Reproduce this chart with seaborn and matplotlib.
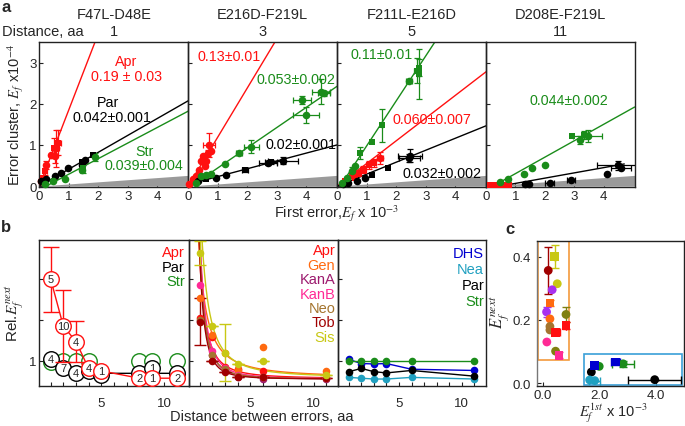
"""
Error clusters vs first error rate (a), relative next-error rate vs distance (b),
and E_next vs E_1st summary (c).
"""
import numpy as np
import pandas as pd
import matplotlib
matplotlib.use("Agg")
import matplotlib.pyplot as plt
import seaborn as sns
from matplotlib.patches import Rectangle

# ---------------- panel a data: (x, y, xerr, yerr, marker) ----------------
A_TITLES = ["F47L-D48E", "E216D-F219L", "F211L-E216D", "D208E-F219L"]
A_DIST = ["1", "3", "5", "11"]

A1_APR = [(0.07, 0.12, 0, 0, "o"), (0.13, 0.20, 0, 0, "s"), (0.20, 0.36, 0.05, 0.08, "s"),
          (0.24, 0.52, 0, 0.1, "o"), (0.41, 0.76, 0, 0, "o"), (0.50, 0.92, 0.05, 0.25, "s"),
          (0.52, 0.72, 0, 0.15, "o"), (0.58, 0.92, 0.08, 0.45, "o"), (0.64, 1.05, 0.1, 0.3, "s")]
A1_PAR = [(0.07, 0.12, 0, 0, "o"), (0.24, 0.16, 0, 0, "o"), (0.52, 0.24, 0, 0, "o"),
          (0.75, 0.32, 0, 0, "o"), (0.98, 0.44, 0, 0, "o"), (1.44, 0.52, 0, 0, "o"),
          (1.44, 0.58, 0, 0, "s"), (1.56, 0.64, 0, 0, "o"), (1.83, 0.76, 0, 0, "s")]
A1_STR = [(0.18, 0.04, 0, 0, "o"), (0.46, 0.12, 0, 0, "o"), (0.86, 0.16, 0, 0, "o"),
          (1.44, 0.38, 0.05, 0.05, "o"), (1.50, 0.44, 0, 0.12, "s"), (1.88, 0.70, 0, 0.1, "o")]

A2_APR = [(0.04, 0.04, 0, 0, "o"), (0.15, 0.16, 0, 0, "o"), (0.26, 0.24, 0, 0, "o"),
          (0.38, 0.40, 0, 0, "o"), (0.43, 0.60, 0, 0, "o"), (0.49, 0.72, 0, 0, "o"),
          (0.55, 0.48, 0, 0, "o"), (0.60, 0.60, 0, 0, "o"), (0.66, 0.80, 0, 0.08, "o"),
          (0.71, 1.00, 0.2, 0.3, "o"), (0.77, 0.84, 0, 0, "o")]
A2_PAR = [(0.32, 0.12, 0, 0, "o"), (0.60, 0.16, 0, 0, "s"), (0.94, 0.20, 0, 0, "o"),
          (1.28, 0.28, 0, 0, "o"), (1.91, 0.38, 0.1, 0.05, "s"), (2.70, 0.56, 0.3, 0.05, "o"),
          (2.81, 0.58, 0.2, 0.05, "s"), (3.21, 0.62, 0.5, 0.08, "o")]
A2_STR = [(0.26, 0.08, 0, 0, "o"), (0.43, 0.24, 0, 0, "o"), (0.60, 0.28, 0, 0, "o"),
          (0.77, 0.29, 0, 0, "o"), (1.23, 0.53, 0, 0, "o"), (1.73, 0.80, 0.1, 0.05, "o"),
          (2.14, 0.96, 0.25, 0.15, "o"), (3.87, 2.10, 0.3, 0.1, "o"), (4.00, 1.72, 0.45, 0.2, "o"),
          (4.51, 2.29, 0.3, 0.3, "o"), (4.60, 2.25, 0.2, 0.05, "o")]

A3_APR = [(0.26, 0.12, 0, 0, "s"), (0.49, 0.24, 0, 0.05, "s"), (0.60, 0.20, 0, 0, "s"),
          (0.71, 0.32, 0.1, 0.08, "s"), (0.88, 0.40, 0.1, 0.08, "s"), (1.06, 0.52, 0.1, 0.1, "s"),
          (1.23, 0.56, 0.1, 0.1, "s"), (1.45, 0.68, 0.1, 0.15, "o")]
A3_PAR = [(0.21, 0.04, 0, 0, "o"), (0.38, 0.08, 0, 0, "o"), (0.66, 0.12, 0, 0, "o"),
          (0.94, 0.20, 0, 0, "o"), (1.17, 0.28, 0, 0, "s"), (1.73, 0.44, 0, 0, "s"),
          (2.44, 0.68, 0.35, 0.1, "o"), (2.47, 0.74, 0.4, 0.15, "o")]
A3_STR = [(0.15, 0.08, 0, 0, "o"), (0.32, 0.20, 0, 0, "o"), (0.49, 0.36, 0, 0.1, "o"),
          (0.60, 0.48, 0, 0, "o"), (0.77, 0.80, 0, 0.15, "s"), (1.17, 1.08, 0, 0, "s"),
          (1.51, 1.48, 0, 0.4, "s"), (2.42, 2.56, 0.1, 0, "o"), (2.70, 2.80, 0.1, 0.3, "s"),
          (2.76, 2.88, 0, 0.2, "s"), (2.76, 2.72, 0, 0.6, "s")]

A4_APR = [(0.15, 0.03, 0, 0, "s"), (0.30, 0.03, 0, 0, "s"), (0.45, 0.03, 0, 0, "s"),
          (0.60, 0.03, 0, 0, "s"), (0.80, 0.03, 0, 0, "s")]
A4_PAR = [(1.34, 0.04, 0, 0, "o"), (1.45, 0.06, 0, 0, "o"), (2.17, 0.08, 0.15, 0, "o"),
          (2.89, 0.15, 0.15, 0, "o"), (4.12, 0.29, 0, 0, "o"), (4.48, 0.50, 0.7, 0.1, "o"),
          (4.59, 0.44, 0.35, 0, "o")]
A4_STR = [(0.49, 0.10, 0, 0, "o"), (0.77, 0.18, 0, 0, "o"), (1.28, 0.29, 0, 0, "o"),
          (1.56, 0.45, 0, 0, "o"), (2.02, 0.50, 0, 0, "o"), (2.93, 1.22, 0, 0, "s"),
          (3.21, 1.12, 0, 0.1, "o"), (3.32, 1.24, 0, 0.1, "s"), (3.46, 1.22, 0.5, 0.15, "o")]

# fitted lines (slope, intercept, x start, x end) per panel for Apr, Par, Str
A_FIT_SLOPE = [[1.85, 0.41, 0.378], [1.19, 0.19, 0.49], [0.55, 0.29, 1.09], [None, 0.128, 0.40]]
A_FIT_ICPT = [[0.0, 0.0, -0.09], [0.0, 0.04, -0.05], [0.0, 0.0, -0.11], [None, -0.064, -0.10]]
A_FIT_X0 = [[0.0, 0.0, 0.24], [0.0, 0.2, 0.1], [0.0, 0.0, 0.1], [None, 0.5, 0.3]]
A_FIT_X1 = [[5.05, 5.05, 5.05], [5.05, 5.05, 5.05], [5.05, 5.05, 5.05], [None, 4.7, 5.05]]
A_NOISE_X = [0.0, 5.05]
A_NOISE_Y = [0.0, 0.26]

# ---------------- panel b data ----------------
B1_DIST = [1, 2, 3, 4, 5, 8, 9, 11]
B1_APR = [3.0, 1.85, 1.47, 0.81, 0.75, 0.57, 0.57, 0.57]
B1_APR_ERR = [0.8, 0.88, 0.5, 0.1, 0, 0, 0, 0]
B1_APR_N = ["5", "10", "4", "4", "1", "2", "1", "2"]
B1_PAR = [1.03, 0.81, 0.70, 0.75, 0.66, 0.70, 0.82, 0.70]
B1_PAR_N = ["4", "7", "4", "", "", "", "1", ""]
B1_PAR_FIT_X = [1, 2, 3, 11]
B1_PAR_FIT_Y = [1.03, 0.81, 0.69, 0.69]
B1_STR_DIST = [1, 2, 3, 4, 8, 9, 11]
B1_STR = [0.98, 1.0, 1.0, 1.0, 1.0, 1.0, 1.0]

B2_DIST = [1, 2, 3, 4, 6, 11]
B2_NAMES = ["Apr", "Gen", "KanA", "KanB", "Neo", "Tob", "Sis"]
B2_APR = [2.04, 1.59, 0.85, 0.80, 0.75, 0.57]
B2_GEN = [2.53, 1.62, 1.19, 0.76, 1.34, 0.75]
B2_KANA = [1.98, 1.13, 0.76, 0.60, 0.56, 0.56]
B2_KANB = [2.86, 1.25, 0.81, 0.65, 0.60, 0.57]
B2_NEO = [2.00, 1.13, 0.80, 0.62, 0.60, 0.58]
B2_TOB = [1.96, 1.00, 0.73, 0.60, 0.60, 0.57]
B2_SIS = [3.65, 1.84, 1.19, 0.92, 1.00, 0.64]
B2_ERR_TOB = [0.57, 0, 0, 0, 0, 0]
B2_ERR_SIS = [0.3, 0, 0.7, 0, 0, 0]
# decay fit y = c + A * d^-p
B2_FIT_C = [0.56, 0.58, 0.55, 0.55, 0.55, 0.55, 0.58]
B2_FIT_A = [2.9, 3.0, 3.4, 3.6, 3.2, 3.0, 4.5]
B2_FIT_P = [2.0, 1.5, 2.5, 2.3, 2.4, 2.6, 1.8]

B3_DIST = [1, 2, 3, 4, 6, 11]
B3_NAMES = ["DHS", "Nea", "Par", "Str"]
B3_DHS = [1.03, 0.93, 0.92, 0.93, 0.79, 0.76]
B3_NEA = [0.59, 0.57, 0.55, 0.55, 0.59, 0.55]
B3_PAR = [0.73, 0.81, 0.73, 0.70, 0.76, 0.62]
B3_STR = [1.0, 1.0, 1.0, 1.0, 1.0, 1.0]

# ---------------- panel c data ----------------
C_GROUP = ["Sis", "Tob", "Sis", "purple", "Gen", "purple", "Gen", "Neo", "Neo", "olive",
           "Apr", "Apr", "KanB", "olive", "KanB", "DHS", "Str", "DHS", "Str", "Par",
           "Nea", "Nea", "Par"]
C_X = [0.41, 0.18, 0.50, 0.32, 0.24, 0.12, 0.24, 0.24, 0.24, 0.81,
       0.81, 0.45, 0.13, 0.44, 0.56, 1.81, 1.99, 2.57, 2.84, 1.71,
       1.65, 1.83, 3.96]
C_Y = [0.400, 0.356, 0.314, 0.295, 0.253, 0.225, 0.203, 0.179, 0.168, 0.217,
       0.182, 0.161, 0.130, 0.101, 0.088, 0.056, 0.053, 0.067, 0.061, 0.035,
       0.010, 0.008, 0.011]
C_XERR = [0, 0, 0, 0, 0, 0, 0, 0, 0, 0,
          0, 0.15, 0, 0, 0, 0.1, 0, 0.15, 0.4, 0,
          0, 0.2, 0.95]
C_YERR = [0.037, 0.075, 0, 0, 0.01, 0.015, 0, 0, 0, 0.025,
          0.01, 0, 0, 0, 0.01, 0.005, 0, 0.01, 0.01, 0,
          0, 0, 0]
C_MARK = ["s", "o", "o", "o", "s", "o", "o", "o", "o", "o",
          "s", "s", "o", "o", "s", "s", "o", "s", "o", "o",
          "o", "o", "o"]

RED, BLACK, GREEN = "#ff1010", "#000000", "#1a8c1a"
PALETTE = {"Apr": RED, "Gen": "#ff6a10", "KanA": "#9c1a6e", "KanB": "#ff2a95",
           "Neo": "#a4742e", "Tob": "#a00000", "Sis": "#c8c814", "DHS": "#0000d0",
           "Nea": "#20a0c0", "Par": BLACK, "Str": GREEN, "purple": "#a830ee",
           "olive": "#808010"}

sns.set_theme(style="ticks")
plt.rcParams["font.family"] = ["Liberation Sans", "DejaVu Sans"]
plt.rcParams["mathtext.fontset"] = "stix"
plt.rcParams["font.size"] = 10
plt.rcParams["xtick.direction"] = "in"
plt.rcParams["ytick.direction"] = "in"
plt.rcParams["xtick.labelsize"] = 9.5
plt.rcParams["ytick.labelsize"] = 9.5

W, H = 685, 427
fig = plt.figure(figsize=(W / 100, H / 100), dpi=100)


def rect(l, t, r, b):
    return [l / W, 1 - b / H, (r - l) / W, (b - t) / H]


def style_axes(ax):
    ax.patch.set_alpha(0)
    for sp in ax.spines.values():
        sp.set_color("#222222")
        sp.set_linewidth(1.0)
    ax.tick_params(length=3, width=0.8, color="#222222", pad=2)
    ax.set_xlabel("")
    ax.set_ylabel("")


def draw_series(ax, rows, color, size=30):
    df = pd.DataFrame(rows, columns=["x", "y", "xerr", "yerr", "marker"])
    bars = df[(df.xerr > 0) | (df.yerr > 0)]
    if len(bars):
        ax.errorbar(bars.x, bars.y, xerr=bars.xerr, yerr=bars.yerr, fmt="none",
                    ecolor=color, elinewidth=0.9, capsize=2.2, capthick=0.9, zorder=3)
    for m, grp in df.groupby("marker"):
        sns.scatterplot(data=grp, x="x", y="y", marker=m, color=color,
                        s=size if m == "o" else size * 0.8,
                        linewidth=0, ax=ax, zorder=4, clip_on=False)


# ================= panel a =================
a_lefts = [39.3, 188.3, 337.3, 485.8]
a_series = [(A1_APR, A1_PAR, A1_STR), (A2_APR, A2_PAR, A2_STR),
            (A3_APR, A3_PAR, A3_STR), (A4_APR, A4_PAR, A4_STR)]
a_text = [
    [("Apr", 2.96, 3.04, RED), ("0.19 ± 0.03", 2.95, 2.68, RED),
     ("Par", 2.34, 2.04, BLACK), ("0.042±0.001", 2.45, 1.68, BLACK),
     ("Str", 3.56, 0.84, GREEN), ("0.039±0.004", 3.56, 0.52, GREEN)],
    [("0.13±0.01", 1.39, 3.16, RED), ("0.053±0.002", 3.66, 2.60, GREEN),
     ("0.02±0.001", 3.83, 1.02, BLACK)],
    [("0.11±0.01", 1.51, 3.20, GREEN), ("0.060±0.007", 3.21, 1.64, RED),
     ("0.032±0.002", 3.55, 0.32, BLACK)],
    [("0.044±0.002", 2.81, 2.10, GREEN)],
]
for i, left in enumerate(a_lefts):
    ax = fig.add_axes(rect(left, 43, left + 148.8, 188.3))
    ax.fill_between(A_NOISE_X, 0, A_NOISE_Y, color="#9a9a9a", lw=0, zorder=1)
    for j, color in enumerate([RED, BLACK, GREEN]):
        if A_FIT_SLOPE[i][j] is None:
            continue
        xs = np.array([A_FIT_X0[i][j], A_FIT_X1[i][j]])
        ax.plot(xs, A_FIT_SLOPE[i][j] * xs + A_FIT_ICPT[i][j], color=color, lw=1.0, zorder=2)
    for rows, color in zip(a_series[i], [RED, BLACK, GREEN]):
        draw_series(ax, rows, color)
    for txt, x, y, color in a_text[i]:
        ax.text(x, y, txt, color=color, ha="center", va="center", fontsize=10.3,
                zorder=6, clip_on=False)
    ax.set_xlim(0, 5.05)
    ax.set_ylim(-0.03, 3.5)
    ax.set_xticks([0, 1, 2, 3, 4])
    ax.set_yticks([0, 1, 2, 3])
    style_axes(ax)
    if i > 0:
        ax.set_yticklabels([])
    cx = left + 74.4
    fig.text(cx / W, 1 - 15 / H, A_TITLES[i], ha="center", va="center", fontsize=10.5)
    fig.text(cx / W, 1 - 32 / H, A_DIST[i], ha="center", va="center", fontsize=10.5)

fig.text(2 / W, 1 - 32 / H, "Distance, aa", ha="left", va="center", fontsize=10.5)
fig.text(16 / W, 1 - 115 / H, "Error cluster, $E_f$ x10$^{-4}$", rotation=90,
         ha="center", va="center", fontsize=10.5)
fig.text(337 / W, 1 - 214 / H, "First error,$E_f$ x 10$^{-3}$", ha="center",
         va="center", fontsize=10.5)
fig.text(1 / W, 1 - 7 / H, "a", ha="left", va="center", fontsize=12, fontweight="bold")

# ================= panel b =================
b_top, b_bot = 240.7, 386.7


def style_b(ax, labels):
    ax.set_xlim(0.1, 11.9)
    ax.set_ylim(0.386, 3.97)
    ax.set_xticks([5, 10])
    ax.set_xticks(range(1, 12), minor=True)
    ax.set_yticks([1, 2, 3])
    style_axes(ax)
    ax.tick_params(axis="x", which="both", pad=8)
    ax.tick_params(axis="x", which="minor", length=3, width=0.8, color="#222222")
    ax.set_yticklabels(["1", "", ""] if labels else [])


# left: Apr / Par / Str with counts
ax = fig.add_axes(rect(39.3, b_top, 188.5, b_bot))
sns.scatterplot(x=B1_STR_DIST, y=B1_STR, s=125, facecolor="white", edgecolor=GREEN,
                linewidth=1.0, ax=ax, zorder=2)
ax.plot(B1_PAR_FIT_X, B1_PAR_FIT_Y, color=BLACK, lw=1.0, zorder=3)
sns.scatterplot(x=B1_DIST, y=B1_PAR, s=125, facecolor="white", edgecolor=BLACK,
                linewidth=1.0, ax=ax, zorder=3)
ax.plot(B1_DIST, B1_APR, color=RED, lw=1.0, zorder=4)
ax.errorbar(B1_DIST, B1_APR, yerr=B1_APR_ERR, fmt="none", ecolor=RED, elinewidth=1.0,
            capsize=6, capthick=1.0, zorder=4)
sns.scatterplot(x=B1_DIST, y=B1_APR, s=125, facecolor="white", edgecolor=RED,
                linewidth=1.0, ax=ax, zorder=5)
for d, y, n in zip(B1_DIST, B1_PAR, B1_PAR_N):
    if n:
        ax.text(d, y, n, ha="center", va="center", fontsize=8, zorder=3.5)
for d, y, n in zip(B1_DIST, B1_APR, B1_APR_N):
    ax.text(d, y, n, ha="center", va="center", fontsize=8, zorder=6)
for k, (name, color) in enumerate([("Apr", RED), ("Par", BLACK), ("Str", GREEN)]):
    ax.text(0.975, 0.915 - 0.1 * k, name, color=color, ha="right", va="center",
            fontsize=10.5, transform=ax.transAxes)
style_b(ax, True)

# middle: aminoglycosides
ax = fig.add_axes(rect(188.5, b_top, 337.5, b_bot))
grid = np.linspace(0.5, 11, 300)
b2_vals = [B2_APR, B2_GEN, B2_KANA, B2_KANB, B2_NEO, B2_TOB, B2_SIS]
for k, name in enumerate(B2_NAMES):
    fit = B2_FIT_C[k] + B2_FIT_A[k] * grid ** (-B2_FIT_P[k])
    ax.plot(grid, fit, color=PALETTE[name], lw=1.0, zorder=2)
ax.errorbar(B2_DIST, B2_TOB, yerr=B2_ERR_TOB, fmt="none", ecolor=PALETTE["Tob"],
            elinewidth=1.0, capsize=4, zorder=3)
ax.errorbar(B2_DIST, B2_SIS, yerr=B2_ERR_SIS, fmt="none", ecolor=PALETTE["Sis"],
            elinewidth=1.0, capsize=4, zorder=3)
for k, name in enumerate(B2_NAMES):
    sns.scatterplot(x=B2_DIST, y=b2_vals[k], color=PALETTE[name], s=30, linewidth=0,
                    ax=ax, zorder=4)
for k, name in enumerate(B2_NAMES):
    ax.text(0.985, 0.927 - 0.0986 * k, name, color=PALETTE[name], ha="right",
            va="center", fontsize=10.5, transform=ax.transAxes)
style_b(ax, False)

# right: no clustering
ax = fig.add_axes(rect(337.5, b_top, 485.5, b_bot))
b3_vals = [B3_DHS, B3_NEA, B3_PAR, B3_STR]
for k, name in enumerate(B3_NAMES):
    sns.lineplot(x=B3_DIST, y=b3_vals[k], color=PALETTE[name], lw=1.0, ax=ax, zorder=2)
    sns.scatterplot(x=B3_DIST, y=b3_vals[k], color=PALETTE[name], s=30, linewidth=0,
                    ax=ax, zorder=4)
for k, name in enumerate(B3_NAMES):
    ax.text(0.99, 0.908 - 0.11 * k, name, color=PALETTE[name], ha="right",
            va="center", fontsize=10.5, transform=ax.transAxes)
style_b(ax, False)

fig.text(15 / W, 1 - 313 / H, "Rel.$E_f^{next}$", rotation=90, ha="center",
         va="center", fontsize=11)
fig.text(262 / W, 1 - 417 / H, "Distance between errors, aa", ha="center",
         va="center", fontsize=10.5)
fig.text(1 / W, 1 - 228 / H, "b", ha="left", va="center", fontsize=12, fontweight="bold")

# ================= panel c =================
ax = fig.add_axes(rect(536.7, 241.7, 684, 387.3))
cdf = pd.DataFrame({"group": C_GROUP, "x": C_X, "y": C_Y, "xerr": C_XERR,
                    "yerr": C_YERR, "marker": C_MARK})
ax.add_patch(Rectangle((-0.2, 0.073), 1.12, 0.376, fill=False, edgecolor="#f39a3c",
                       lw=1.2, zorder=1))
ax.add_patch(Rectangle((1.45, -0.006), 3.49, 0.098, fill=False, edgecolor="#3aa0d8",
                       lw=1.2, zorder=1, clip_on=False))
for _, r in cdf[(cdf.xerr > 0) | (cdf.yerr > 0)].iterrows():
    ax.errorbar(r.x, r.y, xerr=r.xerr, yerr=r.yerr, fmt="none", ecolor=PALETTE[r.group],
                elinewidth=1.0, capsize=3, capthick=1.0, zorder=3)
for m, grp in cdf.groupby("marker"):
    sns.scatterplot(data=grp, x="x", y="y", hue="group", palette=PALETTE, marker=m,
                    s=40, linewidth=0, ax=ax, legend=False, zorder=4)
ax.set_xlim(-0.23, 5.0)
ax.set_ylim(-0.01, 0.45)
ax.set_xticks([0, 2, 4])
ax.set_xticklabels(["0.0", "2.0", "4.0"])
ax.set_yticks([0.0, 0.2, 0.4])
ax.set_yticklabels(["0.0", "0.2", "0.4"])
style_axes(ax)
ax.tick_params(axis="y", pad=4)
ax.tick_params(axis="x", pad=2)
ax.spines["left"].set_color("#777777")
fig.text(499 / W, 1 - 312 / H, "$E_f^{next}$", rotation=90, ha="center", va="center",
         fontsize=12)
fig.text(613 / W, 1 - 413 / H, "$E_f^{1st}$ x 10$^{-3}$", ha="center", va="center",
         fontsize=10.5)
fig.text(505 / W, 1 - 230 / H, "c", ha="left", va="center", fontsize=12, fontweight="bold")

fig.savefig("out.png", dpi=100)
